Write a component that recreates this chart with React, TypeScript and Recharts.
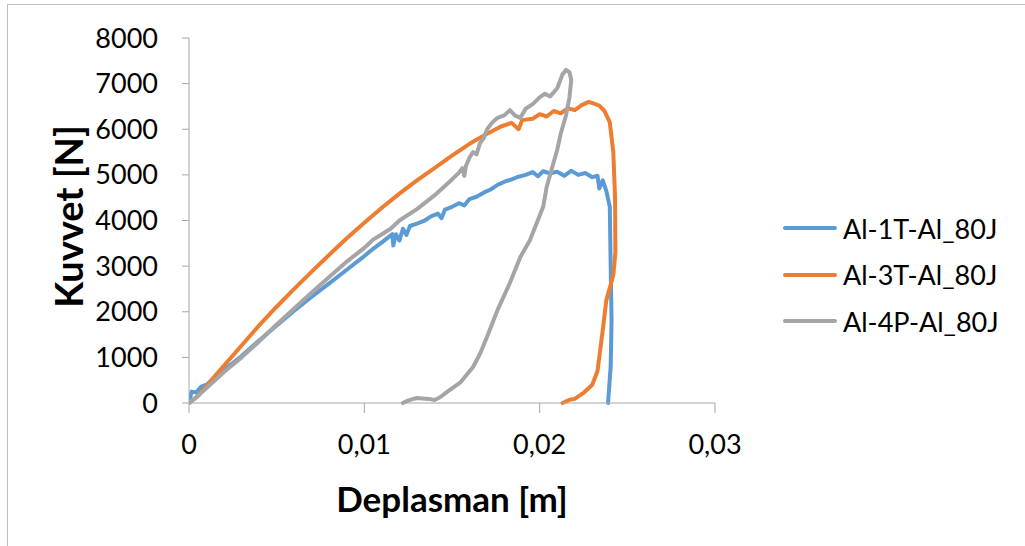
import React from "react";
import { LineChart, Line, XAxis, YAxis } from "recharts";

type P = { x: number; y: number };
const toPts = (a: number[][]): P[] => a.map(([x, y]) => ({ x, y }));

const seriesNames = ["Al-1T-Al_80J", "Al-3T-Al_80J", "Al-4P-Al_80J"];
const seriesColors = ["#5B9BD5", "#ED7D31", "#A5A5A5"];
const xTicks = [0, 0.01, 0.02, 0.03];
const yTicks = [0, 1000, 2000, 3000, 4000, 5000, 6000, 7000, 8000];

const blueRaw = [
  [0, 0], [0.00015, 250], [0.0004, 230], [0.0007, 360], [0.001, 400], [0.0015, 560], [0.002, 720],
  [0.003, 1030], [0.004, 1370], [0.005, 1700], [0.006, 2020], [0.007, 2330], [0.008, 2620], [0.009, 2920],
  [0.01, 3220], [0.0105, 3380], [0.011, 3520], [0.0114, 3640], [0.0116, 3700], [0.01165, 3450],
  [0.0118, 3700], [0.012, 3560], [0.0122, 3820], [0.0124, 3680], [0.0126, 3880], [0.013, 3930],
  [0.0134, 3990], [0.0138, 4090], [0.0142, 4150], [0.0144, 4050], [0.0146, 4240], [0.015, 4300],
  [0.0154, 4380], [0.0157, 4330], [0.016, 4470], [0.0164, 4520], [0.0168, 4610], [0.0172, 4680],
  [0.0176, 4780], [0.018, 4850], [0.0184, 4900], [0.0188, 4960], [0.0192, 5000], [0.0196, 5060],
  [0.0199, 4970], [0.0202, 5080], [0.0206, 5030], [0.021, 5070], [0.0214, 4980], [0.0218, 5090],
  [0.0222, 5000], [0.0226, 5040], [0.023, 4950], [0.0233, 4980], [0.0234, 4700], [0.0236, 4880],
  [0.0238, 4650], [0.024, 4300], [0.02405, 3000], [0.0241, 1800], [0.02405, 800], [0.0239, 0],
];

const orangeRaw = [
  [0, 0], [0.0005, 150], [0.001, 380], [0.0015, 600], [0.002, 820], [0.003, 1260], [0.004, 1700],
  [0.005, 2110], [0.006, 2500], [0.007, 2880], [0.008, 3250], [0.009, 3610], [0.01, 3950], [0.011, 4280],
  [0.012, 4590], [0.013, 4880], [0.014, 5150], [0.015, 5420], [0.016, 5680], [0.017, 5900],
  [0.0178, 6060], [0.0184, 6140], [0.0188, 6000], [0.019, 6200], [0.0196, 6230], [0.02, 6330],
  [0.0204, 6280], [0.0208, 6400], [0.0212, 6350], [0.0216, 6460], [0.022, 6420], [0.0224, 6530],
  [0.0228, 6600], [0.0231, 6560], [0.0234, 6520], [0.0237, 6400], [0.024, 6150], [0.0242, 5500],
  [0.0243, 4500], [0.02432, 3300], [0.0242, 2800], [0.0238, 2250], [0.0236, 1600], [0.0233, 700],
  [0.023, 400], [0.0225, 220], [0.022, 90], [0.0217, 70], [0.0213, 0],
];

const grayRaw = [
  [0, 0], [0.0005, 150], [0.001, 330], [0.002, 680], [0.003, 1000], [0.004, 1350], [0.005, 1720],
  [0.006, 2070], [0.007, 2420], [0.008, 2760], [0.009, 3100], [0.01, 3400], [0.0105, 3580],
  [0.011, 3700], [0.0115, 3820], [0.012, 4000], [0.013, 4250], [0.014, 4550], [0.015, 4900],
  [0.0154, 5050], [0.0156, 5150], [0.0157, 4980], [0.0158, 5200], [0.016, 5380], [0.0162, 5500],
  [0.0164, 5450], [0.0166, 5700], [0.0168, 5800], [0.017, 6000], [0.0173, 6150], [0.0176, 6250],
  [0.018, 6310], [0.0183, 6420], [0.0186, 6300], [0.0189, 6250], [0.0192, 6450], [0.0196, 6550],
  [0.02, 6700], [0.0203, 6780], [0.0206, 6720], [0.021, 6900], [0.0213, 7200], [0.0215, 7300],
  [0.0217, 7250], [0.0218, 7080], [0.0217, 6700], [0.0215, 6300], [0.0212, 5900], [0.021, 5550],
  [0.0204, 4735], [0.0202, 4300], [0.01945, 3573], [0.0189, 3200], [0.0183, 2630], [0.0176, 2040],
  [0.017, 1450], [0.0166, 1080], [0.0162, 790], [0.0155, 460], [0.0147, 240], [0.0143, 120],
  [0.014, 66], [0.0137, 90], [0.0133, 100], [0.013, 110], [0.0127, 80], [0.0124, 40], [0.0122, 0],
];

const seriesData = [toPts(blueRaw), toPts(orangeRaw), toPts(grayRaw)];

const FONT = "Lato, 'Liberation Sans', sans-serif";
const axisColor = "#A6A6A6";

export default function App() {
  return (
    <div style={{ position: "absolute", left: 0, top: 0, width: 1025, height: 546, overflow: "hidden", background: "#fff" }}>
      <div style={{ position: "absolute", left: 7, top: 4, width: 1040, height: 580, border: "1.5px solid #BFBFBF", boxSizing: "border-box" }} />
      <div style={{ position: "absolute", left: 0, top: 0 }}>
        <LineChart width={1025} height={546} margin={{ top: 38, right: 310, bottom: 0, left: 0 }}>
          <XAxis
            type="number"
            dataKey="x"
            domain={[0, 0.03]}
            ticks={xTicks}
            interval={0}
            height={143}
            stroke={axisColor}
            tickSize={10}
            tickMargin={22}
            tick={{ fill: "#000", fontSize: 27, fontFamily: FONT }}
            tickFormatter={(v: number) => String(v).replace(".", ",")}
            label={{ value: "Deplasman [m]", position: "insideBottom", offset: 34, fill: "#000", fontSize: 35, fontWeight: 700, fontFamily: FONT }}
            allowDataOverflow
          />
          <YAxis
            type="number"
            dataKey="y"
            domain={[0, 8000]}
            ticks={yTicks}
            interval={0}
            width={189}
            stroke={axisColor}
            tickSize={7}
            tickMargin={24}
            tick={{ fill: "#000", fontSize: 27, fontFamily: FONT }}
            label={{ value: "Kuvvet [N]", angle: -90, position: "insideLeft", offset: 70, dy: -4, fill: "#000", fontSize: 38, fontWeight: 700, fontFamily: FONT, style: { textAnchor: "middle" } }}
          />
          {seriesNames.map((n, i) => (
            <Line
              key={n}
              name={n}
              data={seriesData[i]}
              dataKey="y"
              type="linear"
              stroke={seriesColors[i]}
              strokeWidth={4}
              dot={false}
              isAnimationActive={false}
              strokeLinejoin="round"
              strokeLinecap="round"
            />
          ))}
        </LineChart>
      </div>
      <div style={{ position: "absolute", left: 783, top: 205, fontFamily: FONT, fontSize: 27, color: "#000" }}>
        {seriesNames.map((n, i) => (
          <div key={n} style={{ display: "flex", alignItems: "center", height: 46.5 }}>
            <div style={{ width: 54, height: 4, borderRadius: 2, background: seriesColors[i], marginRight: 6 }} />
            <span>{n}</span>
          </div>
        ))}
      </div>
    </div>
  );
}
